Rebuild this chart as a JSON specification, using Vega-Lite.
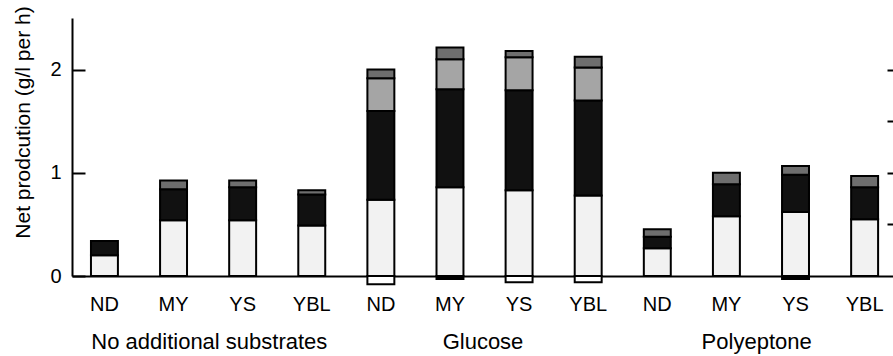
{
  "$schema": "https://vega.github.io/schema/vega-lite/v6.json",
  "width": 821,
  "height": 258,
  "autosize": {"type": "none"},
  "padding": {"left": 72, "top": 18, "right": 0, "bottom": 80},
  "background": "white",
  "config": {
    "view": {"stroke": null},
    "font": "Liberation Sans",
    "axis": {"labelColor": "black", "titleColor": "black", "domainColor": "black", "tickColor": "black", "grid": false}
  },
  "data": {
    "values": [
      {"group": "No additional substrates", "bar": "N-ND", "comp": "A", "value": 0.20},
      {"group": "No additional substrates", "bar": "N-ND", "comp": "B", "value": 0.14},
      {"group": "No additional substrates", "bar": "N-MY", "comp": "A", "value": 0.54},
      {"group": "No additional substrates", "bar": "N-MY", "comp": "B", "value": 0.30},
      {"group": "No additional substrates", "bar": "N-MY", "comp": "D", "value": 0.085},
      {"group": "No additional substrates", "bar": "N-YS", "comp": "A", "value": 0.54},
      {"group": "No additional substrates", "bar": "N-YS", "comp": "B", "value": 0.32},
      {"group": "No additional substrates", "bar": "N-YS", "comp": "D", "value": 0.065},
      {"group": "No additional substrates", "bar": "N-YBL", "comp": "A", "value": 0.49},
      {"group": "No additional substrates", "bar": "N-YBL", "comp": "B", "value": 0.30},
      {"group": "No additional substrates", "bar": "N-YBL", "comp": "D", "value": 0.04},
      {"group": "Glucose", "bar": "G-ND", "comp": "A", "value": 0.74},
      {"group": "Glucose", "bar": "G-ND", "comp": "B", "value": 0.86},
      {"group": "Glucose", "bar": "G-ND", "comp": "C", "value": 0.315},
      {"group": "Glucose", "bar": "G-ND", "comp": "D", "value": 0.085},
      {"group": "Glucose", "bar": "G-ND", "comp": "NW", "value": -0.08},
      {"group": "Glucose", "bar": "G-MY", "comp": "A", "value": 0.86},
      {"group": "Glucose", "bar": "G-MY", "comp": "B", "value": 0.95},
      {"group": "Glucose", "bar": "G-MY", "comp": "C", "value": 0.29},
      {"group": "Glucose", "bar": "G-MY", "comp": "D", "value": 0.115},
      {"group": "Glucose", "bar": "G-MY", "comp": "NB", "value": -0.03},
      {"group": "Glucose", "bar": "G-YS", "comp": "A", "value": 0.83},
      {"group": "Glucose", "bar": "G-YS", "comp": "B", "value": 0.97},
      {"group": "Glucose", "bar": "G-YS", "comp": "C", "value": 0.32},
      {"group": "Glucose", "bar": "G-YS", "comp": "D", "value": 0.06},
      {"group": "Glucose", "bar": "G-YS", "comp": "NW", "value": -0.06},
      {"group": "Glucose", "bar": "G-YBL", "comp": "A", "value": 0.78},
      {"group": "Glucose", "bar": "G-YBL", "comp": "B", "value": 0.92},
      {"group": "Glucose", "bar": "G-YBL", "comp": "C", "value": 0.32},
      {"group": "Glucose", "bar": "G-YBL", "comp": "D", "value": 0.105},
      {"group": "Glucose", "bar": "G-YBL", "comp": "NW", "value": -0.06},
      {"group": "Polyeptone", "bar": "P-ND", "comp": "A", "value": 0.27},
      {"group": "Polyeptone", "bar": "P-ND", "comp": "B", "value": 0.11},
      {"group": "Polyeptone", "bar": "P-ND", "comp": "D", "value": 0.074},
      {"group": "Polyeptone", "bar": "P-MY", "comp": "A", "value": 0.58},
      {"group": "Polyeptone", "bar": "P-MY", "comp": "B", "value": 0.31},
      {"group": "Polyeptone", "bar": "P-MY", "comp": "D", "value": 0.11},
      {"group": "Polyeptone", "bar": "P-YS", "comp": "A", "value": 0.62},
      {"group": "Polyeptone", "bar": "P-YS", "comp": "B", "value": 0.36},
      {"group": "Polyeptone", "bar": "P-YS", "comp": "D", "value": 0.086},
      {"group": "Polyeptone", "bar": "P-YS", "comp": "NB", "value": -0.03},
      {"group": "Polyeptone", "bar": "P-YBL", "comp": "A", "value": 0.55},
      {"group": "Polyeptone", "bar": "P-YBL", "comp": "B", "value": 0.31},
      {"group": "Polyeptone", "bar": "P-YBL", "comp": "D", "value": 0.11}
    ]
  },
  "layer": [
    {
      "mark": {"type": "bar", "stroke": "black", "strokeWidth": 2},
      "encoding": {
        "x": {
          "field": "bar", "type": "nominal", "sort": null,
          "scale": {"paddingInner": 0.61, "paddingOuter": 0.245, "align": 0.56},
          "axis": {"title": null, "labelExpr": "split(datum.label,'-')[1]", "ticks": false, "domainWidth": 2, "labelFontSize": 20, "labelPadding": 18, "labelAngle": 0}
        },
        "y": {
          "field": "value", "type": "quantitative", "stack": "zero",
          "scale": {"domain": [0, 2.5], "nice": false},
          "axis": {
            "title": "Net prodcution (g/l per h)",
            "values": [0, 0.5, 1, 1.5, 2, 2.5],
            "format": "d",
            "labelExpr": "datum.value == 0 || datum.value == 1 || datum.value == 2 ? datum.label : ''",
            "tickSize": -13, "tickWidth": 2, "domainWidth": 2,
            "labelFontSize": 20, "labelPadding": 24,
            "titleFontSize": 21, "titleFontWeight": "normal", "titlePadding": 16, "titleY": 104
          }
        },
        "color": {
          "field": "comp", "type": "nominal",
          "scale": {"domain": ["A", "B", "C", "D", "NW", "NB"], "range": ["#f2f2f2", "#111111", "#a5a5a5", "#6e6e6e", "#ffffff", "#000000"]},
          "legend": null
        },
        "order": {"field": "comp"}
      }
    },
    {
      "mark": {"type": "point", "opacity": 0},
      "encoding": {
        "x": {
          "field": "group", "type": "nominal", "sort": null,
          "axis": {"title": null, "orient": "bottom", "domain": false, "ticks": false, "labelPadding": 55, "labelFontSize": 22, "labelLimit": 0, "labelAngle": 0}
        },
        "y": {
          "field": "value", "type": "quantitative",
          "axis": {"orient": "right", "title": null, "labels": false, "domain": false, "values": [0.5, 1, 1.5, 2], "tickSize": -6, "tickWidth": 2}
        }
      }
    }
  ],
  "resolve": {"scale": {"x": "independent"}, "axis": {"y": "independent"}}
}
